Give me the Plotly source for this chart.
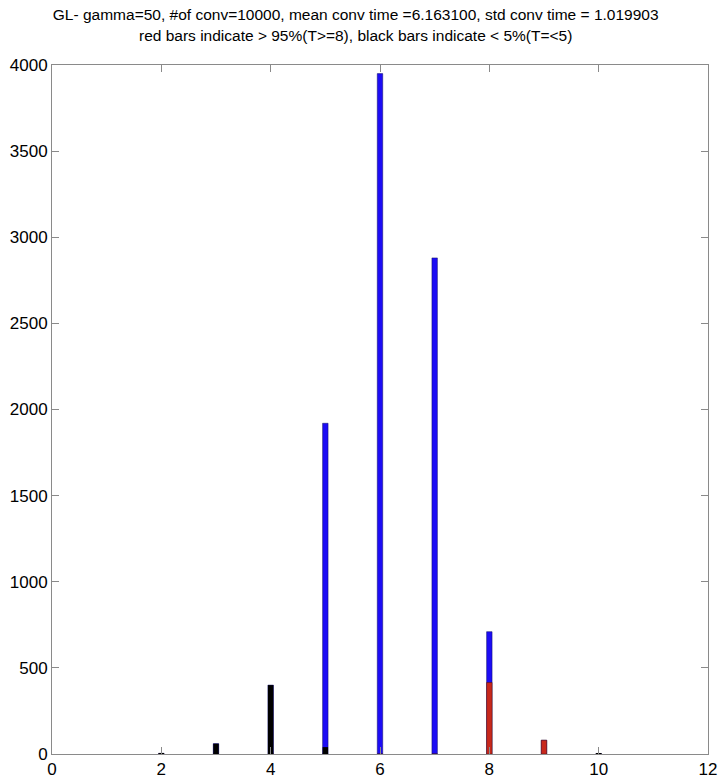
import plotly.graph_objects as go

# Data
x_vals = [2, 3, 4, 5, 6, 7, 8, 9, 10]
total_counts = [4, 60, 400, 1920, 3950, 2880, 710, 80, 3]
red_counts = [0, 0, 0, 0, 0, 0, 415, 80, 0]
black_counts = [4, 60, 400, 40, 0, 0, 0, 0, 3]

title_text = ("GL- gamma=50, #of conv=10000, mean conv time =6.163100, std conv time = 1.019903"
              "<br>red bars indicate > 95%(T>=8), black bars indicate < 5%(T=<5)")

font_family = "Liberation Sans Narrow, Arial Narrow, Liberation Sans, Arial"
bar_w = 0.1
fig = go.Figure()
fig.add_trace(go.Bar(x=x_vals, y=total_counts, width=bar_w, marker_color="#1c0cf5",
                     marker_line_color="#101060", marker_line_width=0.5, showlegend=False))
fig.add_trace(go.Bar(x=x_vals, y=red_counts, width=bar_w, marker_color="#c8281c",
                     marker_line_color="#501010", marker_line_width=0.5, showlegend=False))
fig.add_trace(go.Bar(x=x_vals, y=black_counts, width=bar_w, marker_color="#000000",
                     marker_line_width=0, showlegend=False))

axis_common = dict(showgrid=False, zeroline=False, showline=True, linecolor="#8a8a8a",
                   linewidth=1, mirror="ticks", ticks="inside", ticklen=7,
                   tickcolor="#8a8a8a", automargin=False,
                   tickfont=dict(size=17, color="black", family=font_family))

fig.update_layout(
    barmode="overlay",
    width=720, height=783,
    margin=dict(l=52, r=12, t=65, b=29),
    paper_bgcolor="white", plot_bgcolor="white",
    title=dict(text=title_text, x=0.494, xref="container", xanchor="center",
               y=0.974, yref="container", yanchor="top",
               font=dict(size=15.5, color="black", family=font_family)),
    xaxis=dict(range=[0, 12], tickvals=[0, 2, 4, 6, 8, 10, 12], **axis_common),
    yaxis=dict(range=[0, 4000], tickvals=[0, 500, 1000, 1500, 2000, 2500, 3000, 3500, 4000],
               **axis_common),
)

fig.write_html("out.html", config={"displayModeBar": False},
               post_script="document.body.style.margin='0';document.body.style.overflow='hidden';")
